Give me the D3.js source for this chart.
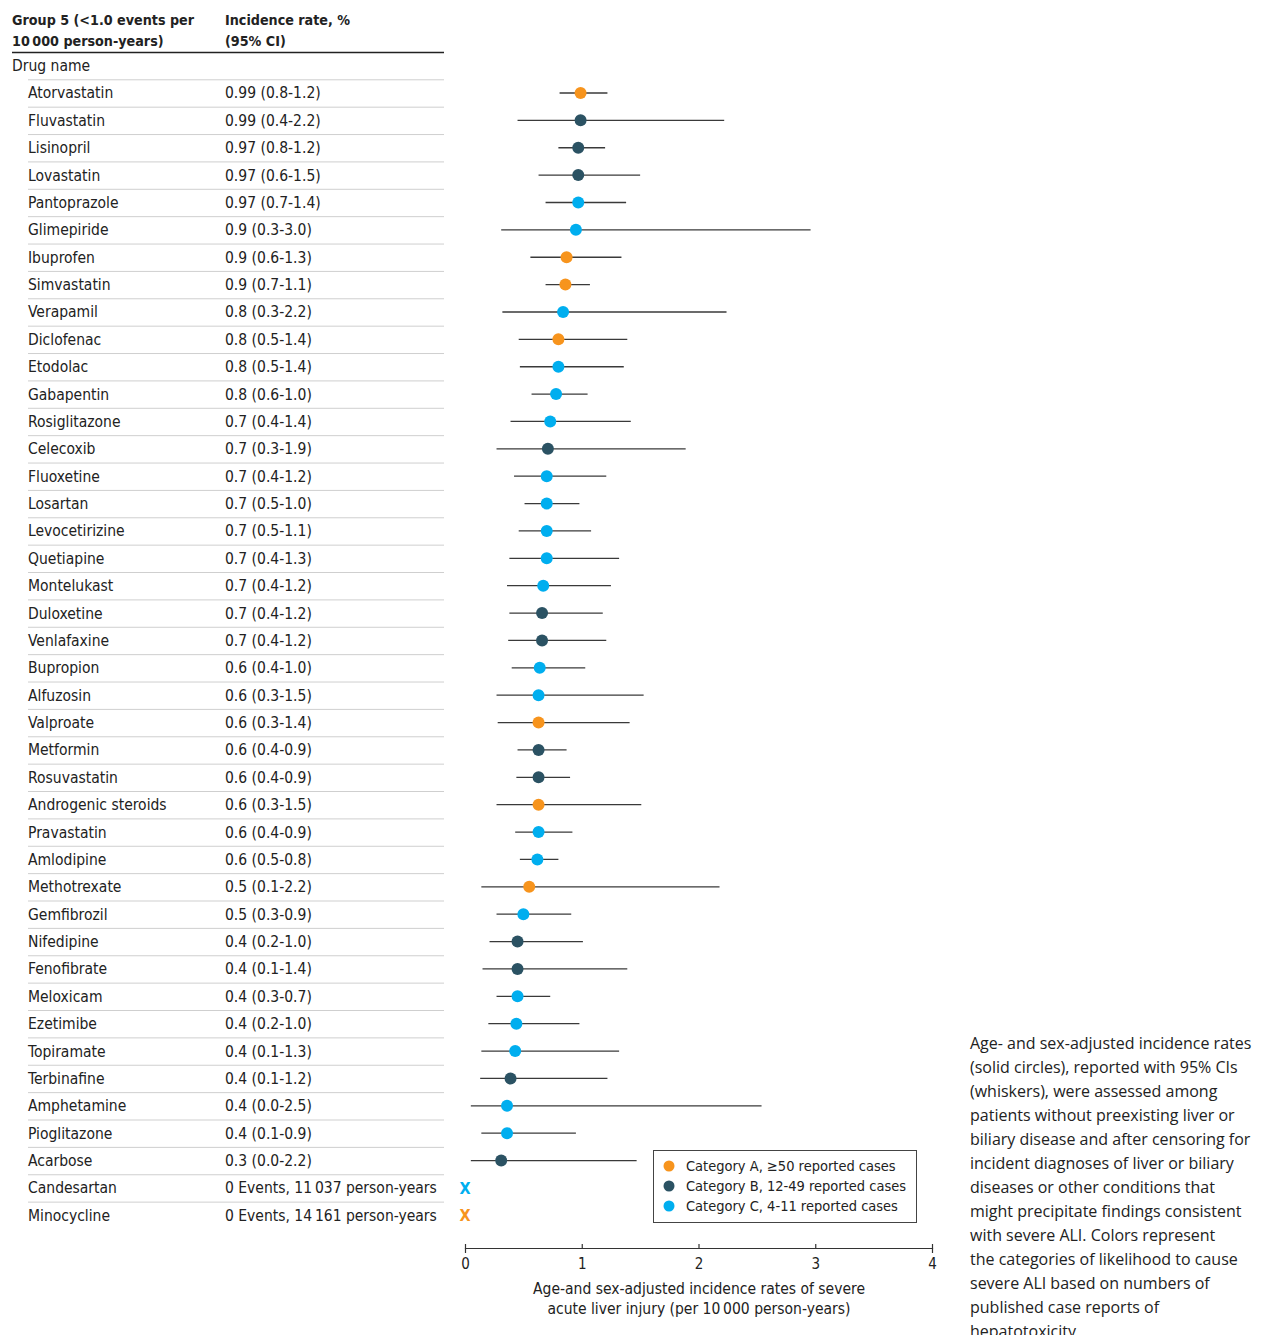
<!DOCTYPE html>
<html>
<head>
<meta charset="utf-8">
<script src="https://d3js.org/d3.v7.min.js"></script>
<style>
  body{margin:0;background:#fff;}
  svg{display:block;}
  .tbl{font-family:"DejaVu Sans Condensed","DejaVu Sans",sans-serif;font-size:15.5px;fill:#222;}
  .hdr{font-weight:bold;font-size:14.2px;}
  .axis text{font-family:"DejaVu Sans Condensed","DejaVu Sans",sans-serif;font-size:15px;fill:#222;}
  .axis path,.axis line{stroke:#333;stroke-width:1.2;}
  .caption{font-family:"Open Sans",sans-serif;font-size:16px;fill:#222;}
</style>
</head>
<body>
<script>
var W = 1267, H = 1335;

//data
var drugs = ['Atorvastatin','Fluvastatin','Lisinopril','Lovastatin','Pantoprazole','Glimepiride','Ibuprofen','Simvastatin','Verapamil','Diclofenac','Etodolac','Gabapentin','Rosiglitazone','Celecoxib','Fluoxetine','Losartan','Levocetirizine','Quetiapine','Montelukast','Duloxetine','Venlafaxine','Bupropion','Alfuzosin','Valproate','Metformin','Rosuvastatin','Androgenic steroids','Pravastatin','Amlodipine','Methotrexate','Gemfibrozil','Nifedipine','Fenofibrate','Meloxicam','Ezetimibe','Topiramate','Terbinafine','Amphetamine','Pioglitazone','Acarbose','Candesartan','Minocycline'];

var rateText = ['0.99 (0.8-1.2)','0.99 (0.4-2.2)','0.97 (0.8-1.2)','0.97 (0.6-1.5)','0.97 (0.7-1.4)','0.9 (0.3-3.0)','0.9 (0.6-1.3)','0.9 (0.7-1.1)','0.8 (0.3-2.2)','0.8 (0.5-1.4)','0.8 (0.5-1.4)','0.8 (0.6-1.0)','0.7 (0.4-1.4)','0.7 (0.3-1.9)','0.7 (0.4-1.2)','0.7 (0.5-1.0)','0.7 (0.5-1.1)','0.7 (0.4-1.3)','0.7 (0.4-1.2)','0.7 (0.4-1.2)','0.7 (0.4-1.2)','0.6 (0.4-1.0)','0.6 (0.3-1.5)','0.6 (0.3-1.4)','0.6 (0.4-0.9)','0.6 (0.4-0.9)','0.6 (0.3-1.5)','0.6 (0.4-0.9)','0.6 (0.5-0.8)','0.5 (0.1-2.2)','0.5 (0.3-0.9)','0.4 (0.2-1.0)','0.4 (0.1-1.4)','0.4 (0.3-0.7)','0.4 (0.2-1.0)','0.4 (0.1-1.3)','0.4 (0.1-1.2)','0.4 (0.0-2.5)','0.4 (0.1-0.9)','0.3 (0.0-2.2)','0 Events, 11\u2009037 person-years','0 Events, 14\u2009161 person-years'];

var rates = [0.99,0.99,0.97,0.97,0.97,0.95,0.87,0.86,0.84,0.80,0.80,0.78,0.73,0.71,0.70,0.70,0.70,0.70,0.67,0.66,0.66,0.64,0.63,0.63,0.63,0.63,0.63,0.63,0.62,0.55,0.50,0.45,0.45,0.45,0.44,0.43,0.39,0.36,0.36,0.31,null,null];
var lows  = [0.81,0.45,0.80,0.63,0.69,0.31,0.56,0.69,0.32,0.46,0.47,0.57,0.39,0.27,0.42,0.51,0.46,0.38,0.36,0.38,0.37,0.40,0.27,0.28,0.45,0.44,0.27,0.43,0.47,0.14,0.27,0.21,0.15,0.27,0.20,0.14,0.13,0.05,0.14,0.05,null,null];
var highs = [1.22,2.22,1.20,1.50,1.38,2.96,1.34,1.07,2.24,1.39,1.36,1.05,1.42,1.89,1.21,0.98,1.08,1.32,1.25,1.18,1.21,1.03,1.53,1.41,0.87,0.90,1.51,0.92,0.80,2.18,0.91,1.01,1.39,0.73,0.98,1.32,1.22,2.54,0.95,1.47,null,null];
var cats  = ['A','B','B','B','C','C','A','A','C','A','C','C','C','B','C','C','C','C','C','B','B','C','C','A','B','B','A','C','C','A','C','B','B','C','C','C','B','C','C','B','C','A'];

var catNames = ['A','B','C'];
var catLabels = ['Category A, \u226550 reported cases','Category B, 12-49 reported cases','Category C, 4-11 reported cases'];
var catColors = ['#f7941d','#2b5263','#00aeef'];

var xTicks = [0,1,2,3,4];

var captionLines = ['Age- and sex-adjusted incidence rates','(solid circles), reported with 95% CIs','(whiskers), were assessed among','patients without preexisting liver or','biliary disease and after censoring for','incident diagnoses of liver or biliary','diseases or other conditions that','might precipitate findings consistent','with severe ALI. Colors represent','the categories of likelihood to cause','severe ALI based on numbers of','published case reports of','hepatotoxicity.'];

var rows = drugs.map(function(d,i){
  return {name:d, text:rateText[i], rate:rates[i], low:lows[i], high:highs[i], cat:cats[i]};
});

//scales
var scaleX = d3.scaleLinear().domain([0,4]).range([465,932]);
var scaleY = d3.scaleBand().domain(drugs).range([79.3,1229]).paddingInner(0);
var color = d3.scaleOrdinal().domain(catNames).range(catColors);

var svg = d3.select('body').append('svg')
    .attr('width',W)
    .attr('height',H);

//table header
var header = svg.append('g').attr('class','tbl hdr');
header.append('text').attr('x',12).attr('y',25).text('Group 5 (<1.0 events per');
header.append('text').attr('x',12).attr('y',46).text('10\u2009000 person-years)');
header.append('text').attr('x',225).attr('y',25).text('Incidence rate, %');
header.append('text').attr('x',225).attr('y',46).text('(95% CI)');

svg.append('line')
    .attr('x1',12).attr('x2',444)
    .attr('y1',52.5).attr('y2',52.5)
    .style('stroke','#222').style('stroke-width',1.6);

svg.append('text').attr('class','tbl')
    .attr('x',12).attr('y',70.5)
    .text('Drug name');

//rows
var row = svg.selectAll('.row')
    .data(rows)
    .enter()
    .append('g')
    .attr('class','row')
    .attr('transform',function(d){return 'translate(0,' + scaleY(d.name) + ')'});

row.append('line')
    .attr('x1',28).attr('x2',444)
    .attr('y1',0.5).attr('y2',0.5)
    .style('stroke','#cfcfcf')
    .style('stroke-width',1);

row.append('text').attr('class','tbl')
    .attr('x',28)
    .attr('y',scaleY.bandwidth()/2 + 5.5)
    .text(function(d){return d.name});

row.append('text').attr('class','tbl')
    .attr('x',225)
    .attr('y',scaleY.bandwidth()/2 + 5.5)
    .text(function(d){return d.text});

//whiskers and points
var plot = svg.append('g').attr('class','plot');
var withRate = rows.filter(function(d){return d.rate !== null});

plot.selectAll('.ci')
    .data(withRate)
    .enter()
    .append('line')
    .attr('class','ci')
    .attr('x1',function(d){return scaleX(d.low)})
    .attr('x2',function(d){return scaleX(d.high)})
    .attr('y1',function(d){return scaleY(d.name) + scaleY.bandwidth()/2})
    .attr('y2',function(d){return scaleY(d.name) + scaleY.bandwidth()/2})
    .style('stroke','#3a3a3a')
    .style('stroke-width',1.3);

plot.selectAll('.pt')
    .data(withRate)
    .enter()
    .append('circle')
    .attr('class','pt')
    .attr('cx',function(d){return scaleX(d.rate)})
    .attr('cy',function(d){return scaleY(d.name) + scaleY.bandwidth()/2})
    .attr('r',6)
    .style('fill',function(d){return color(d.cat)});

plot.selectAll('.zero')
    .data(rows.filter(function(d){return d.rate === null}))
    .enter()
    .append('text')
    .attr('class','zero')
    .attr('x',scaleX(0))
    .attr('y',function(d){return scaleY(d.name) + scaleY.bandwidth()/2 + 6})
    .attr('text-anchor','middle')
    .style('font-family','"DejaVu Sans Condensed","DejaVu Sans",sans-serif')
    .style('font-weight','bold')
    .style('font-size','16px')
    .style('fill',function(d){return color(d.cat)})
    .text('X');

//axis
var axisX = d3.axisBottom()
    .scale(scaleX)
    .tickValues(xTicks)
    .tickFormat(d3.format('d'))
    .tickSizeOuter(0)
    .tickSize(5);

var gx = svg.append('g').attr('class','axis')
    .attr('transform','translate(0,1248)')
    .call(axisX);
gx.selectAll('.tick line').attr('y1',-4).attr('y2',1);
gx.selectAll('.tick text').attr('y',10);

var xlab = svg.append('text').attr('class','tbl')
    .attr('text-anchor','middle');
xlab.append('tspan').attr('x',699).attr('y',1294).text('Age-and sex-adjusted incidence rates of severe');
xlab.append('tspan').attr('x',699).attr('y',1314).text('acute liver injury (per 10\u2009000 person-years)');

//legend
var legend = svg.append('g').attr('class','legend')
    .attr('transform','translate(653,1150)');
legend.append('rect')
    .attr('x',0.5).attr('y',0.5)
    .attr('width',263).attr('height',72)
    .style('fill','#fff')
    .style('stroke','#444')
    .style('stroke-width',1);

var item = legend.selectAll('.item')
    .data(catNames)
    .enter()
    .append('g')
    .attr('class','item')
    .attr('transform',function(d,i){return 'translate(0,' + (16 + i*20) + ')'});
item.append('circle')
    .attr('cx',16).attr('cy',0).attr('r',5.5)
    .style('fill',function(d){return color(d)});
item.append('text').attr('class','tbl')
    .attr('x',33).attr('y',5)
    .style('font-size','14.5px')
    .text(function(d,i){return catLabels[i]});

//caption
svg.append('g').attr('class','caption')
    .selectAll('text')
    .data(captionLines)
    .enter()
    .append('text')
    .attr('x',970)
    .attr('y',function(d,i){return 1049 + i*24})
    .text(function(d){return d});

</script>
</body>
</html>
